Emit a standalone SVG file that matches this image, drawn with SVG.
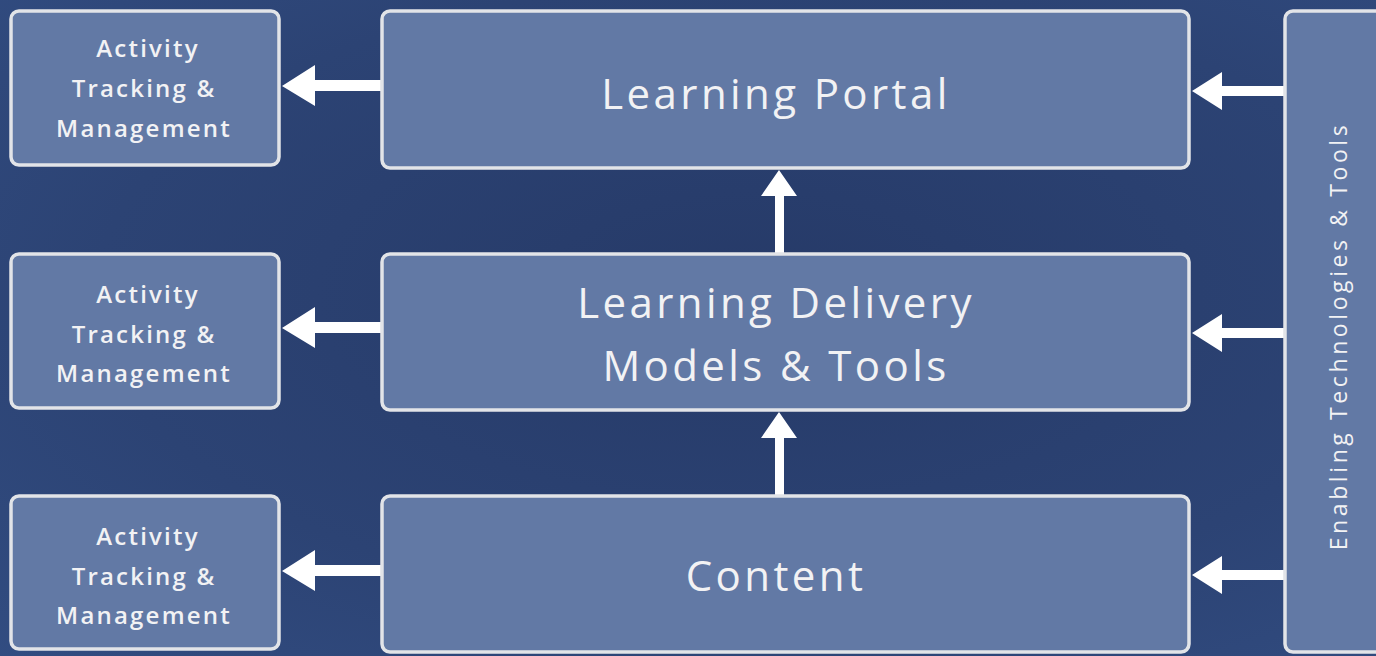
<svg xmlns="http://www.w3.org/2000/svg" width="1376" height="656" viewBox="0 0 1376 656">
<defs>
<radialGradient id="bg" cx="0.55" cy="0.45" r="0.8">
<stop offset="0" stop-color="#263a68"/>
<stop offset="0.6" stop-color="#2c4374"/>
<stop offset="1" stop-color="#324d82"/>
</radialGradient>
<style>
.box{fill:#6279a5;stroke:#e2e4e8;stroke-width:3.5}
.t{fill:#f2f2f4;font-family:"Open Sans","Noto Sans",sans-serif;text-anchor:middle}
.s{font-size:24px;letter-spacing:2.2px;font-weight:600}
.b{font-size:42px;letter-spacing:3.4px}
.v{font-size:23px;letter-spacing:3.6px}
.ar{fill:#ffffff}
</style>
</defs>
<rect width="1376" height="656" fill="url(#bg)"/>
<g id="connectors">
<path class="ar" d="M381,80 L315,80 L315,65 L282,86 L315,106 L315,91 L381,91 Z"/>
<path class="ar" d="M381,322 L315,322 L315,307 L282,328 L315,348 L315,333 L381,333 Z"/>
<path class="ar" d="M381,565 L315,565 L315,550 L282,571 L315,591 L315,576 L381,576 Z"/>
<path class="ar" d="M1284,86 L1222,86 L1222,72 L1192,91 L1222,110 L1222,96 L1284,96 Z"/>
<path class="ar" d="M1284,328 L1222,328 L1222,314 L1192,333 L1222,352 L1222,338 L1284,338 Z"/>
<path class="ar" d="M1284,570 L1222,570 L1222,556 L1192,575 L1222,594 L1222,580 L1284,580 Z"/>
<path class="ar" d="M775,253 L775,196 L761,196 L779,170 L797,196 L784,196 L784,253 Z"/>
<path class="ar" d="M775,495 L775,438 L761,438 L779,412 L797,438 L784,438 L784,495 Z"/>
</g>
<g id="atm1"><rect class="box" x="11" y="11" width="268" height="154" rx="8"/>
<text class="t s" x="148" y="57">Activity</text><text class="t s" x="144" y="97">Tracking &amp;</text><text class="t s" x="144" y="137">Management</text></g>
<g id="atm2"><rect class="box" x="11" y="254" width="268" height="154" rx="8"/>
<text class="t s" x="148" y="303">Activity</text><text class="t s" x="144" y="343">Tracking &amp;</text><text class="t s" x="144" y="382">Management</text></g>
<g id="atm3"><rect class="box" x="11" y="496" width="268" height="153" rx="8"/>
<text class="t s" x="148" y="545">Activity</text><text class="t s" x="144" y="585">Tracking &amp;</text><text class="t s" x="144" y="624">Management</text></g>
<g id="portal"><rect class="box" x="382" y="11" width="807" height="157" rx="8"/>
<text class="t b" x="776" y="109">Learning Portal</text></g>
<g id="delivery"><rect class="box" x="382" y="254" width="807" height="156" rx="8"/>
<text class="t b" x="776" y="318">Learning Delivery</text><text class="t b" x="776" y="381">Models &amp; Tools</text></g>
<g id="content"><rect class="box" x="382" y="496" width="807" height="156" rx="8"/>
<text class="t b" x="776" y="591">Content</text></g>
<g id="enabling"><rect class="box" x="1285" y="11" width="110" height="641" rx="8"/>
<text class="t v" transform="translate(1347,336) rotate(-90)" x="0" y="0">Enabling Technologies &amp; Tools</text></g>
</svg>
